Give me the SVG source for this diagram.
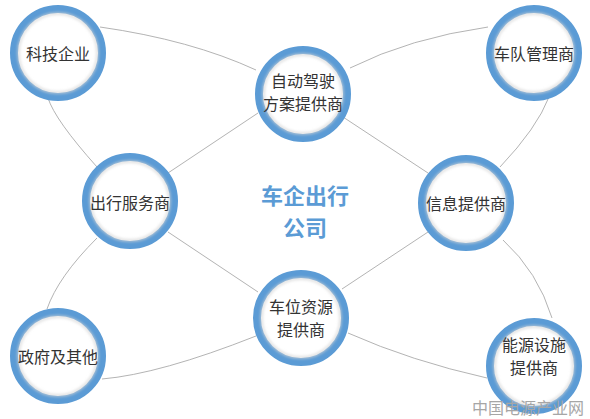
<svg xmlns="http://www.w3.org/2000/svg" width="590" height="419" viewBox="0 0 590 419">
<defs>
<filter id="sh" x="-20%" y="-20%" width="140%" height="140%">
<feGaussianBlur stdDeviation="1.5"/>
</filter>
</defs>
<style>
.ring{fill:#ffffff;stroke:#5B9BD5;stroke-width:8}
.shade{fill:none;stroke:#d6d6d6;stroke-width:2;filter:url(#sh)}
.lbl{font-family:"Noto Sans CJK SC","Noto Sans",sans-serif;font-size:16px;fill:#333333;text-anchor:middle}
.ttl{font-family:"Noto Sans CJK SC","Noto Sans",sans-serif;font-size:22px;font-weight:bold;fill:#5B9BD5;text-anchor:middle}
.wm{font-family:"Noto Sans CJK SC","Noto Sans",sans-serif;font-size:16px;fill:#a6a6a6;text-anchor:start}
.ln{fill:none;stroke:#aaaaaa;stroke-width:0.9}
</style>
<rect width="590" height="419" fill="#ffffff"/>
<g id="connectors">
<path class="ln" d="M100,27 Q191,40 256,70"/>
<path class="ln" d="M350,68 Q410,38 488,27"/>
<path class="ln" d="M549,97 Q537,128 500,167"/>
<path class="ln" d="M503,240 Q538,272 552,318"/>
<path class="ln" d="M487,378 Q411,361 348,333"/>
<path class="ln" d="M256,336 Q160,374 102,379"/>
<path class="ln" d="M47,309 Q58,277 97,238"/>
<path class="ln" d="M97,167 Q55,120 48,98"/>
<path class="ln" d="M168,173 L258,113"/>
<path class="ln" d="M343,117 L428,173"/>
<path class="ln" d="M428,232 L342,289"/>
<path class="ln" d="M258,292 L168,232"/>
</g>
<g id="n-keji">
<circle class="ring" cx="58" cy="53" r="44"/>
<circle class="shade" cx="58" cy="53" r="39.5"/>
<text class="lbl" x="58" y="60">科技企业</text>
</g>
<g id="n-zidong">
<circle class="ring" cx="303" cy="94" r="44"/>
<circle class="shade" cx="303" cy="94" r="39.5"/>
<text class="lbl" x="303" y="87">自动驾驶<tspan x="303" dy="23">方案提供商</tspan></text>
</g>
<g id="n-chedui">
<circle class="ring" cx="534" cy="53" r="44"/>
<circle class="shade" cx="534" cy="53" r="39.5"/>
<text class="lbl" x="534" y="60">车队管理商</text>
</g>
<g id="n-chuxing">
<circle class="ring" cx="130" cy="201" r="44"/>
<circle class="shade" cx="130" cy="201" r="39.5"/>
<text class="lbl" x="130" y="209">出行服务商</text>
</g>
<g id="n-xinxi">
<circle class="ring" cx="466" cy="203" r="44"/>
<circle class="shade" cx="466" cy="203" r="39.5"/>
<text class="lbl" x="466" y="210">信息提供商</text>
</g>
<g id="n-chewei">
<circle class="ring" cx="301" cy="318" r="44"/>
<circle class="shade" cx="301" cy="318" r="39.5"/>
<text class="lbl" x="301" y="313">车位资源<tspan x="301" dy="23">提供商</tspan></text>
</g>
<g id="n-zhengfu">
<circle class="ring" cx="58" cy="356" r="44"/>
<circle class="shade" cx="58" cy="356" r="39.5"/>
<text class="lbl" x="58" y="363">政府及其他</text>
</g>
<g id="n-nengyuan">
<circle class="ring" cx="534" cy="366" r="44"/>
<circle class="shade" cx="534" cy="366" r="39.5"/>
<text class="lbl" x="534" y="351">能源设施<tspan x="534" dy="23">提供商</tspan></text>
</g>
<g id="center">
<text class="ttl" x="305" y="204">车企出行<tspan x="305" dy="32">公司</tspan></text>
</g>
<text class="wm" x="472" y="414">中国电源产业网</text>
</svg>
